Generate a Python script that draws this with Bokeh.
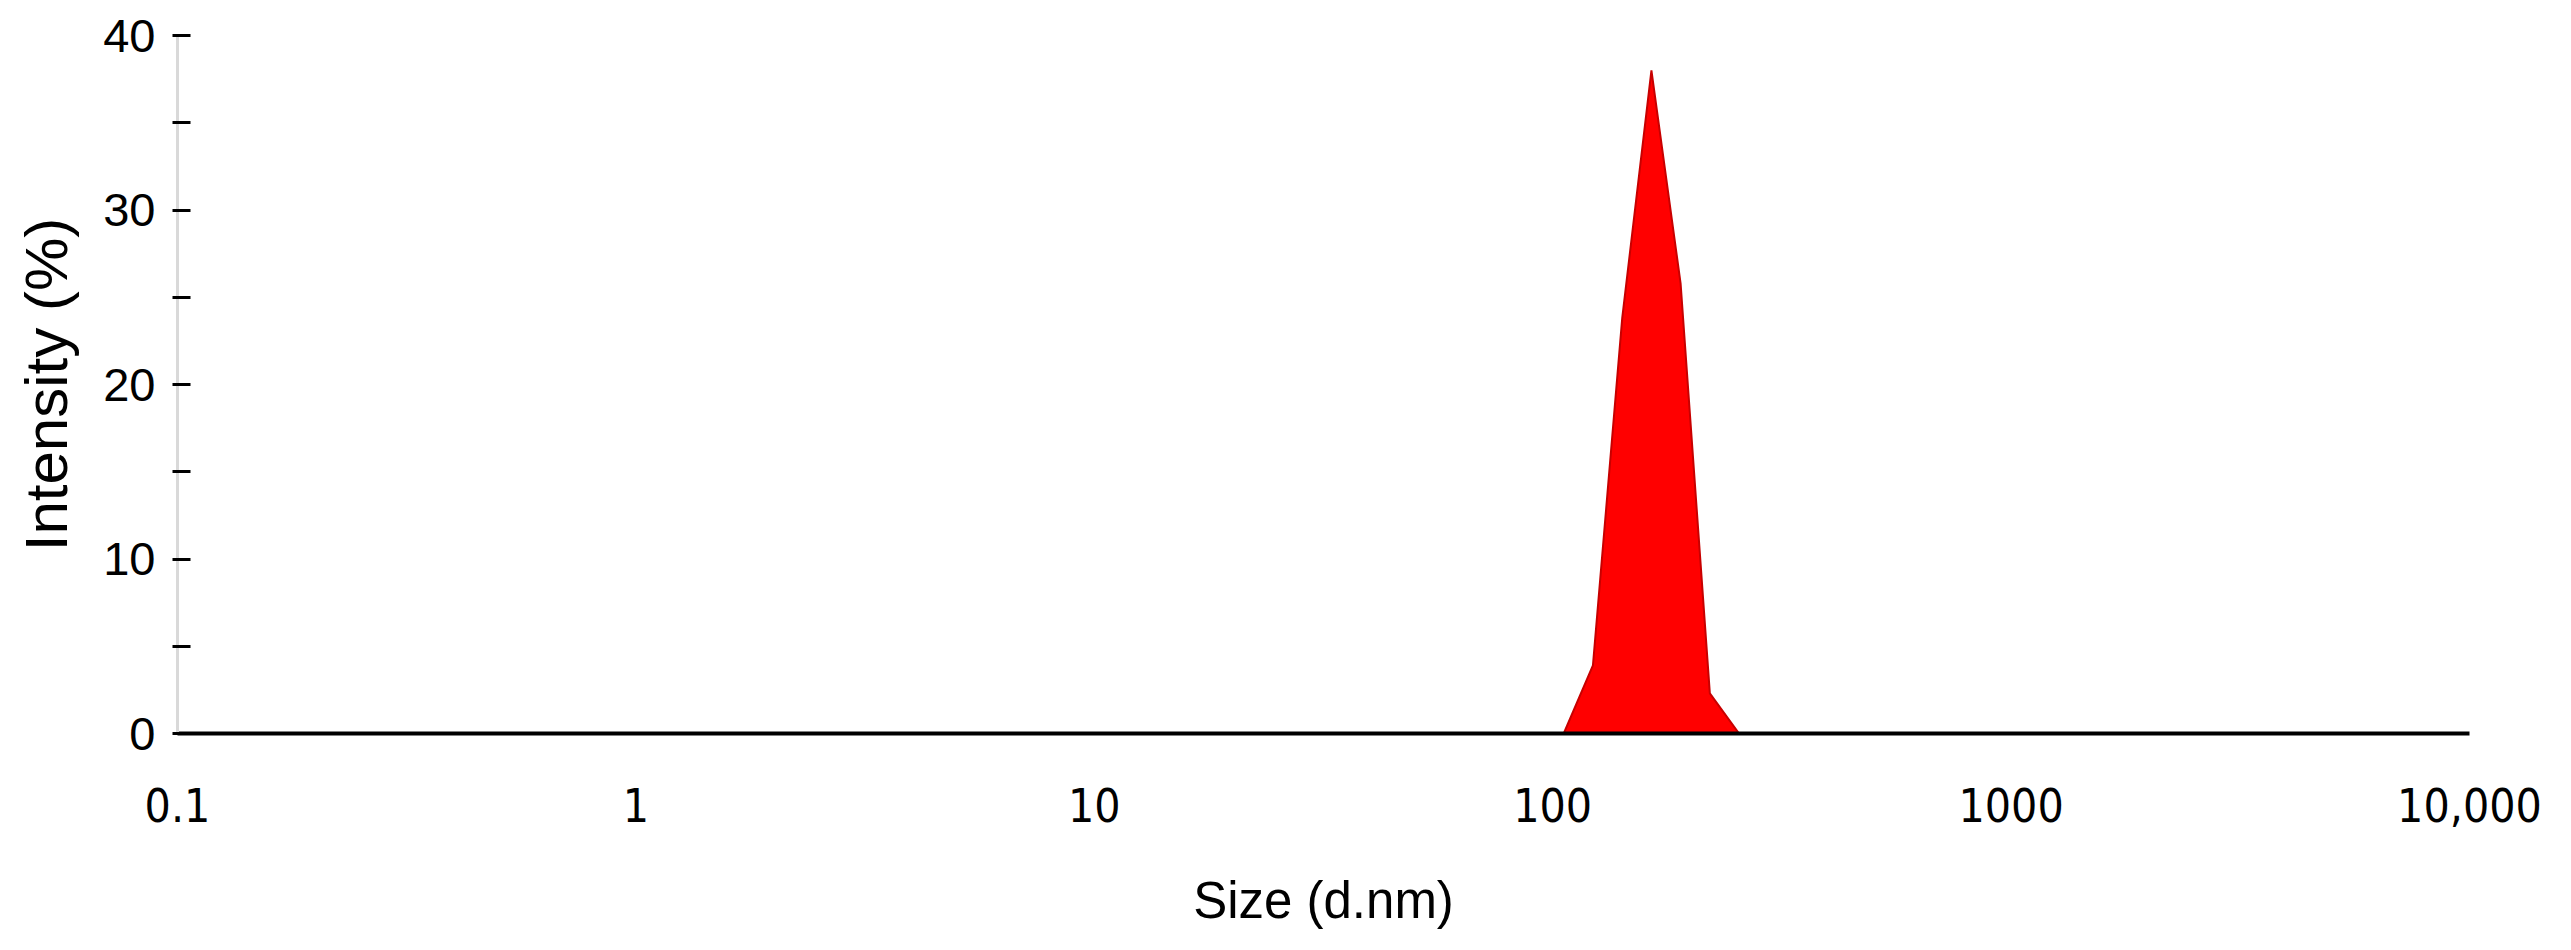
from bokeh.plotting import figure
from bokeh.models import Range1d, FixedTicker, CustomJSTickFormatter, ColumnDataSource
from bokeh.embed import file_html
from bokeh.resources import INLINE

# ---- data ----
sizes_nm = [105.7, 122.4, 141.8, 164.2, 190.1, 220.2, 255.0]
intensity_pct = [0.0, 3.9, 23.8, 38.0, 25.8, 2.3, 0.0]

x_ticks = [0.1, 1, 10, 100, 1000, 10000]
x_tick_labels = ["0.1", "1", "10", "100", "1000", "10,000"]
y_ticks = [0, 10, 20, 30, 40]
y_minor_ticks = [5, 15, 25, 35]

x_title = "Size (d.nm)"
y_title = "Intensity (%)"

FONT = "Liberation Sans"
NARROW = "'Liberation Sans Narrow', 'DejaVu Sans Condensed', 'Liberation Sans'"

p = figure(width=2571, height=950, x_axis_type="log",
           x_range=Range1d(0.1, 10000), y_range=Range1d(0, 40),
           output_backend="svg", toolbar_location=None,
           min_border_left=177, min_border_right=102,
           min_border_top=35, min_border_bottom=217)
p.outline_line_color = None
p.xgrid.grid_line_color = None
p.ygrid.grid_line_color = None
p.background_fill_color = "white"
p.border_fill_color = "white"

src = ColumnDataSource(dict(x=sizes_nm, y=intensity_pct))
p.varea(x="x", y1=0, y2="y", source=src, fill_color="#ff0000")
p.line(x="x", y="y", source=src, line_color="#c80000", line_width=2)

# x axis
xa = p.xaxis[0]
xa.ticker = FixedTicker(ticks=x_ticks, minor_ticks=[])
xa.formatter = CustomJSTickFormatter(args=dict(t=x_ticks, l=x_tick_labels), code="""
let best = 0;
for (let i = 0; i < t.length; i++) {
  if (Math.abs(Math.log10(t[i]) - Math.log10(tick)) < Math.abs(Math.log10(t[best]) - Math.log10(tick))) best = i;
}
return l[best];
""")
xa.axis_line_color = "black"
xa.axis_line_width = 4
xa.major_tick_line_color = None
xa.major_tick_in = 0
xa.major_tick_out = 0
xa.minor_tick_line_color = None
xa.minor_tick_in = 0
xa.minor_tick_out = 0
xa.major_label_text_font = NARROW
xa.major_label_text_font_size = "46px"
xa.major_label_text_color = "black"
xa.major_label_standoff = 54
xa.axis_label = x_title
xa.axis_label_text_font = FONT
xa.axis_label_text_font_size = "51px"
xa.axis_label_text_font_style = "normal"
xa.axis_label_text_color = "black"
xa.axis_label_standoff = 47

# y axis
ya = p.yaxis[0]
ya.ticker = FixedTicker(ticks=y_ticks, minor_ticks=y_minor_ticks)
ya.axis_line_color = "#d9d9d9"
ya.axis_line_width = 3
ya.major_tick_line_color = "black"
ya.major_tick_line_width = 3
ya.major_tick_in = 13
ya.major_tick_out = 5
ya.minor_tick_line_color = "black"
ya.minor_tick_line_width = 3
ya.minor_tick_in = 13
ya.minor_tick_out = 5
ya.major_label_text_font = FONT
ya.major_label_text_font_size = "47px"
ya.major_label_text_color = "black"
ya.major_label_standoff = 17
ya.axis_label = y_title
ya.axis_label_text_font = FONT
ya.axis_label_text_font_size = "60px"
ya.axis_label_text_font_style = "normal"
ya.axis_label_text_color = "black"
ya.axis_label_standoff = 20

open("out.html", "w").write(file_html(p, INLINE))
